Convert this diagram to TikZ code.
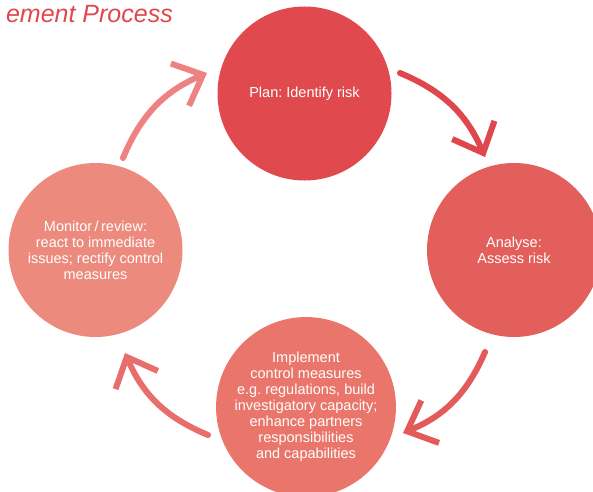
\documentclass[tikz,border=0pt]{standalone}
\usepackage{fontspec}
\setmainfont{Liberation Sans}
\frenchspacing
\usetikzlibrary{arrows.meta}
\definecolor{cplan}{HTML}{E04A4E}
\definecolor{canal}{HTML}{E35F5C}
\definecolor{cimpl}{HTML}{E9756B}
\definecolor{cmon}{HTML}{EC8A7E}
\definecolor{aone}{HTML}{E0474C}
\definecolor{atwo}{HTML}{E35A5A}
\definecolor{athree}{HTML}{E86E6C}
\definecolor{afour}{HTML}{EE8282}
\begin{document}
\begin{tikzpicture}[x=1pt,y=1pt,
  stepcircle/.style={circle, minimum size=174pt, inner sep=0pt, text=white, align=center,
     font=\fontsize{14.5}{16}\selectfont\frenchspacing},
  cyclearrow/.style={line width=6pt, line cap=round,
     -{Straight Barb[length=25pt,width=46pt,sharp]}}]
\useasboundingbox (0,0) rectangle (593,491);
\node[anchor=east, text=aone, font=\fontsize{25}{28}\selectfont\itshape, inner sep=0pt] (title) at (173,477) {ement Process};
\node[stepcircle, fill=cplan] (plan) at (304.5,397.5) {Plan: Identify risk};
\node[stepcircle, fill=canal] (analyse) at (514,241) {Analyse:\\Assess risk};
\node[stepcircle, fill=cimpl] (impl) at (306,84) {Implement\\control measures\\e.g. regulations, build\\investigatory capacity;\\enhance partners\\responsibilities\\and capabilities};
\node[stepcircle, fill=cmon] (mon) at (95.5,241) {Monitor\,/\,review:\\react to immediate\\issues; rectify control\\measures};
\coordinate (a1s) at (400,418);
\coordinate (a1e) at (485,334);
\coordinate (a2s) at (485,139);
\coordinate (a2e) at (403,58);
\coordinate (a3s) at (208,56);
\coordinate (a3e) at (125,138);
\coordinate (a4s) at (123,333);
\coordinate (a4e) at (207,418);
\draw[cyclearrow, aone] (a1s) to[bend left=22] (a1e);
\draw[cyclearrow, atwo] (a2s) to[bend left=22] (a2e);
\draw[cyclearrow, athree] (a3s) to[bend left=22] (a3e);
\draw[cyclearrow, afour] (a4s) to[bend left=22] (a4e);
\end{tikzpicture}
\end{document}
